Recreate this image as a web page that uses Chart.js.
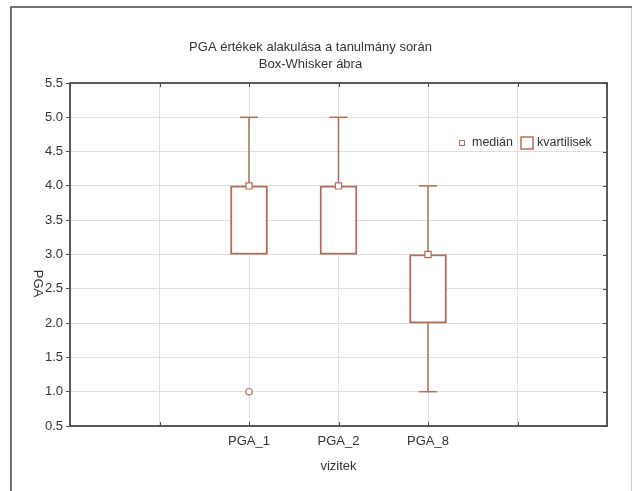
<!DOCTYPE html>
<html>
<head>
<meta charset="utf-8">
<script src="https://cdn.jsdelivr.net/npm/chart.js@4/dist/chart.umd.min.js"></script>
<style>
  html, body { margin: 0; padding: 0; background: #fff; }
  #wrap { width: 633px; height: 491px; position: relative; }
</style>
</head>
<body>
<div id="wrap"><canvas id="boxChart"></canvas></div>
<script>
// adatok
const categories = ["PGA_1", "PGA_2", "PGA_8"];
const q1Values = [3, 3, 2];
const q3Values = [4, 4, 3];
const medianValues = [4, 4, 3];
const minValues = [3, 3, 1];
const maxValues = [5, 5, 4];
const outlierValues = [[1], [], []];
const yTicks = [0.5, 1.0, 1.5, 2.0, 2.5, 3.0, 3.5, 4.0, 4.5, 5.0, 5.5];

const titleLines = ["PGA értékek alakulása a tanulmány során", "Box-Whisker ábra"];
const xTitle = "vizitek";
const yTitle = "PGA";
const legendLabels = ["medián", "kvartilisek"];

// a kategóriák a 0..6 tengelyen a 2., 3., 4. helyen állnak
const firstSlot = 2;
const slotCount = 6;

const boxColor = "#b56d57";
const textColor = "#333";
const font = "Liberation Sans, Arial, sans-serif";

const boxData = categories.map((c, i) => ({ x: i + firstSlot, y: [q1Values[i], q3Values[i]] }));
const medianData = categories.map((c, i) => ({ x: i + firstSlot, y: medianValues[i] }));

const whiskerData = [];
const capData = [];
categories.forEach((c, i) => {
  const x = i + firstSlot;
  if (maxValues[i] > q3Values[i]) {
    whiskerData.push({ x: x, y: q3Values[i] }, { x: x, y: maxValues[i] }, { x: x, y: null });
    capData.push({ x: x, y: maxValues[i] });
  }
  if (minValues[i] < q1Values[i]) {
    whiskerData.push({ x: x, y: q1Values[i] }, { x: x, y: minValues[i] }, { x: x, y: null });
    capData.push({ x: x, y: minValues[i] });
  }
});

const outlierData = [];
outlierValues.forEach((list, i) => {
  list.forEach(v => outlierData.push({ x: i + firstSlot, y: v }));
});

// keret, címek, jelmagyarázat
const decorPlugin = {
  id: "decor",
  beforeDraw(chart) {
    const ctx = chart.ctx;
    ctx.save();
    ctx.fillStyle = "#fff";
    ctx.fillRect(0, 0, chart.width, chart.height);
    ctx.strokeStyle = "#cfcfcf";
    ctx.lineWidth = 1;
    ctx.beginPath();
    ctx.moveTo(631.5, 7);
    ctx.lineTo(631.5, chart.height);
    ctx.stroke();
    ctx.strokeStyle = "#444";
    ctx.lineWidth = 1.5;
    ctx.beginPath();
    ctx.moveTo(11, chart.height);
    ctx.lineTo(11, 7);
    ctx.lineTo(632, 7);
    ctx.stroke();
    ctx.restore();
  },
  afterDraw(chart) {
    const ctx = chart.ctx;
    const a = chart.chartArea;
    const xs = chart.scales.x;
    const ys = chart.scales.y;
    ctx.save();

    // plot keret
    ctx.strokeStyle = "#4a4a4a";
    ctx.lineWidth = 1.8;
    ctx.strokeRect(a.left, a.top, a.right - a.left, a.bottom - a.top);

    // belső osztásjelek
    ctx.lineWidth = 1;
    ctx.beginPath();
    ys.ticks.forEach(t => {
      const y = Math.round(ys.getPixelForValue(t.value)) + 0.5;
      ctx.moveTo(a.right, y);
      ctx.lineTo(a.right - 4, y);
    });
    xs.ticks.forEach(t => {
      const x = Math.round(xs.getPixelForValue(t.value)) + 0.5;
      ctx.moveTo(x, a.top);
      ctx.lineTo(x, a.top + 4);
      ctx.moveTo(x, a.bottom);
      ctx.lineTo(x, a.bottom - 4);
    });
    ctx.stroke();

    // cím
    ctx.fillStyle = textColor;
    ctx.font = "13px " + font;
    ctx.textAlign = "center";
    ctx.textBaseline = "middle";
    const cx = (a.left + a.right) / 2 - 28;
    ctx.fillText(titleLines[0], cx, 47);
    ctx.fillText(titleLines[1], cx, 64);

    // tengelycímek
    ctx.fillText(xTitle, (a.left + a.right) / 2, a.bottom + 40);
    ctx.save();
    ctx.translate(38, (a.top + a.bottom) / 2 + 29);
    ctx.rotate(Math.PI / 2);
    ctx.fillText(yTitle, 0, 0);
    ctx.restore();

    // jelmagyarázat
    const ly = a.top + 60;
    const lx = a.right - 145;
    ctx.strokeStyle = boxColor;
    ctx.lineWidth = 1;
    ctx.strokeRect(lx - 2.5, ly - 2.5, 5, 5);
    ctx.textAlign = "left";
    ctx.font = "12.5px " + font;
    ctx.fillText(legendLabels[0], lx + 10, ly);
    const w0 = ctx.measureText(legendLabels[0]).width;
    const bx = lx + 10 + w0 + 8;
    ctx.lineWidth = 1.5;
    ctx.strokeRect(bx, ly - 6, 12, 12);
    ctx.fillText(legendLabels[1], bx + 16, ly);

    ctx.restore();
  }
};

const ctx = document.getElementById("boxChart").getContext("2d");
new Chart(ctx, {
  type: "bar",
  data: {
    datasets: [
      {
        type: "line",
        label: "whisker",
        data: whiskerData,
        borderColor: boxColor,
        borderWidth: 1.5,
        pointRadius: 0,
        spanGaps: false,
        order: 4
      },
      {
        type: "scatter",
        label: "cap",
        data: capData,
        pointStyle: "line",
        pointRadius: 9,
        borderColor: boxColor,
        borderWidth: 1.5,
        order: 3
      },
      {
        type: "bar",
        label: legendLabels[1],
        data: boxData,
        backgroundColor: "#fff",
        borderColor: boxColor,
        borderWidth: 2,
        borderSkipped: false,
        barThickness: 37,
        order: 2
      },
      {
        type: "scatter",
        label: legendLabels[0],
        data: medianData,
        pointStyle: "rect",
        pointRadius: 4.4,
        backgroundColor: "#fff",
        borderColor: boxColor,
        borderWidth: 1.2,
        order: 1
      },
      {
        type: "scatter",
        label: "outlier",
        data: outlierData,
        pointStyle: "circle",
        pointRadius: 3.2,
        backgroundColor: "#fff",
        borderColor: boxColor,
        borderWidth: 1.2,
        order: 1
      }
    ]
  },
  options: {
    responsive: true,
    maintainAspectRatio: false,
    animation: false,
    layout: { padding: { top: 83, right: 26, left: 0, bottom: 0 } },
    plugins: {
      legend: { display: false },
      title: { display: false },
      tooltip: { enabled: false }
    },
    scales: {
      x: {
        type: "linear",
        min: 0,
        max: slotCount,
        offset: false,
        afterFit(s) { s.height = 65; },
        afterBuildTicks(s) {
          s.ticks = [];
          for (let v = 0; v <= slotCount; v++) s.ticks.push({ value: v });
        },
        border: { display: false },
        grid: { color: "#dedede", lineWidth: 1, drawTicks: false, offset: false },
        ticks: {
          padding: 8,
          color: textColor,
          font: { family: font, size: 13 },
          maxRotation: 0,
          autoSkip: false,
          callback: v => categories[v - firstSlot] || ""
        }
      },
      y: {
        min: yTicks[0],
        max: yTicks[yTicks.length - 1],
        afterFit(s) { s.width = 70; },
        afterBuildTicks(s) { s.ticks = yTicks.map(v => ({ value: v })); },
        border: { display: false },
        grid: { color: "#dedede", lineWidth: 1, tickLength: 4, tickColor: "#555" },
        ticks: {
          padding: 3,
          color: textColor,
          font: { family: font, size: 13 },
          callback: v => v.toFixed(1)
        }
      }
    }
  },
  plugins: [decorPlugin]
});
</script>
</body>
</html>
